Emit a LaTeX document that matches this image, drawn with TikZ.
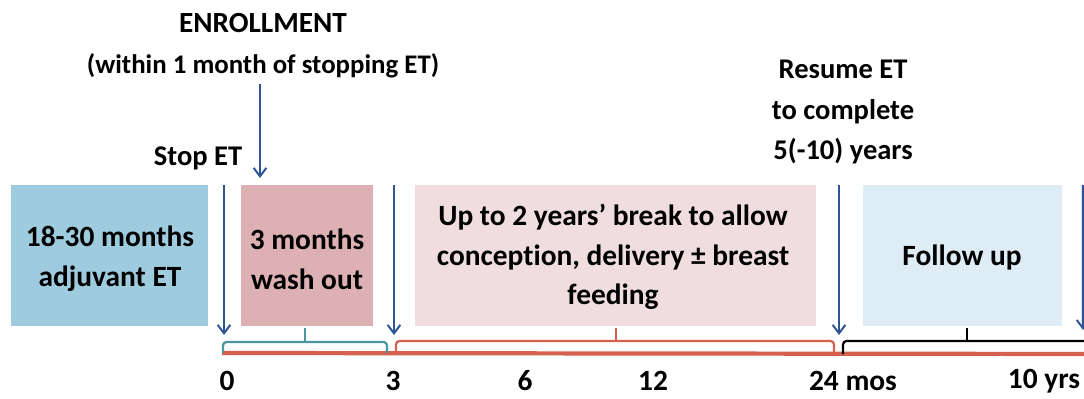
\documentclass[tikz,border=0pt]{standalone}
\usepackage{fontspec}
\setmainfont[Ligatures=NoCommon]{Carlito}
\usetikzlibrary{arrows.meta}

\definecolor{adjblue}{RGB}{158,203,221}
\definecolor{washpink}{RGB}{221,177,179}
\definecolor{breakpink}{RGB}{240,221,221}
\definecolor{followblue}{RGB}{222,236,245}
\definecolor{markblue}{RGB}{46,84,150}
\definecolor{axisred}{RGB}{214,96,78}
\definecolor{washteal}{RGB}{74,150,156}

\begin{document}
\begin{tikzpicture}[x=0.025cm, y=-0.025cm,
		txt/.style={font=\bfseries\fontsize{20.9}{28.2}\selectfont, align=center, inner sep=0pt},
		top/.style={font=\bfseries\fontsize{20.3}{28.6}\selectfont, align=center, inner sep=0pt},
		marker/.style={draw=markblue, line width=1.4pt, -{Straight Barb[length=6pt,width=9pt]}},
		span/.style={line width=1.6pt, rounded corners=2.5pt}]
		\useasboundingbox (0,0) rectangle (1084,399);

		% Phase boxes
		\fill[adjblue] (11,185) rectangle (208,326);
		\fill[washpink] (241,185) rectangle (373,326);
		\fill[breakpink] (415,185) rectangle (816,326);
		\fill[followblue] (863,185) rectangle (1062,326);
		\draw[black!12] (1081,185) -- (1081,326);

		\node[txt] (adj) at (110,259) {18-30 months\\adjuvant ET};
		\node[txt] (wash) at (307,259) {3 months\\wash out};
		\node[txt] (pause) at (613,257) {Up to 2 years’ break to allow\\conception, delivery ± breast\\feeding};
		\node[txt] (follow) at (962,258) {Follow up};

		% Event labels
		\node[top, font=\bfseries\fontsize{20.8}{28}\selectfont] (enrol) at (263,23) {ENROLLMENT};
		\node[top, font=\bfseries\fontsize{19.1}{28}\selectfont] (within) at (263,66) {(within 1 month of stopping ET)};
		\node[top] (stop) at (198,158) {Stop ET};
		\node[top] (resume) at (843,112) {Resume ET\\to complete\\5(-10) years};

		% Event arrows
		\coordinate (e0) at (260,84);
		\coordinate (e1) at (260,178);
		\coordinate (s0) at (224,185);
		\coordinate (s1) at (224,335);
		\coordinate (w0) at (394,185);
		\coordinate (w1) at (394,335);
		\coordinate (r0) at (839,185);
		\coordinate (r1) at (839,335);
		\coordinate (f0) at (1083,185);
		\coordinate (f1) at (1083,330);
		\draw[marker] (e0) -- (e1);
		\draw[marker] (s0) -- (s1);
		\draw[marker] (w0) -- (w1);
		\draw[marker] (r0) -- (r1);
		\draw[marker] (f0) -- (f1);

		% Time line
		\coordinate (a0) at (222,353);
		\coordinate (a1) at (1100,354);
		\draw[axisred, line width=3pt] (a0) -- (a1);

		% Spans above the time line
		\draw[span, washteal] (223,353) -- (223,342) -- (387,342) -- (387,353);
		\draw[washteal, line width=1.6pt] (305,342) -- (305,328);
		\draw[span, axisred] (396,353) -- (396,341) -- (834,341) -- (834,353);
		\draw[axisred, line width=1.6pt] (616,341) -- (616,328);
		\draw[span, black] (843,354) -- (843,341) -- (1100,341);
		\draw[black, line width=1.6pt] (967,341) -- (967,328);

		% Time marks
		\node[txt] (t0) at (227,381) {0};
		\node[txt] (t3) at (393,381) {3};
		\node[txt] (t6) at (525,381) {6};
		\node[txt] (t12) at (653,381) {12};
		\node[txt] (t24) at (853,381) {24 mos};
		\node[txt] (t10) at (1044,381) {10 yrs};
	\end{tikzpicture}
\end{document}
